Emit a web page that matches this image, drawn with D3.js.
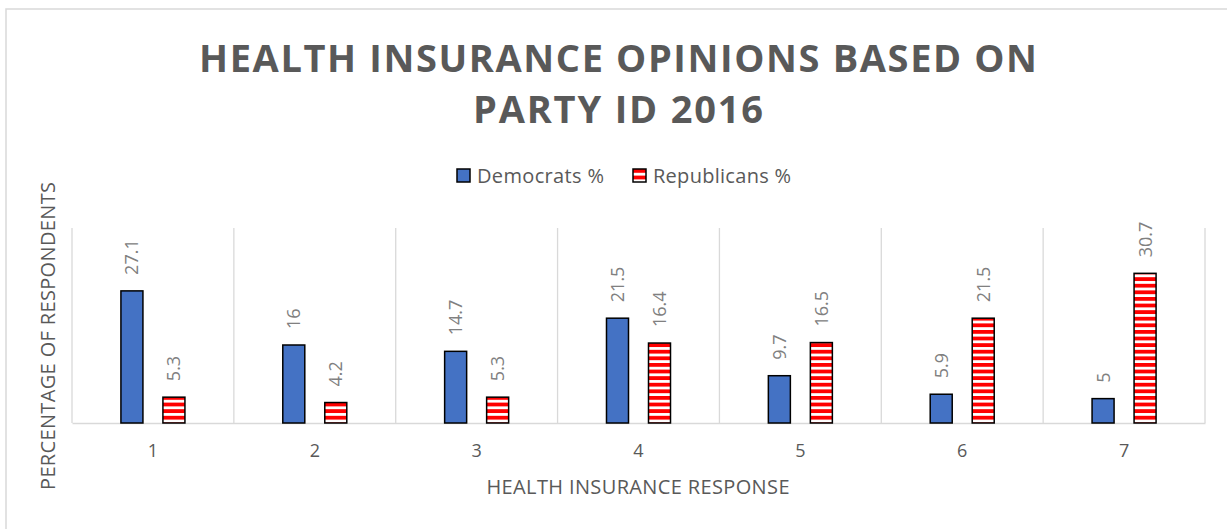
<!DOCTYPE html>
<html>
<head>
<meta charset="utf-8">
<script src="https://cdn.jsdelivr.net/npm/d3@7"></script>
<style>
  body { margin: 0; background: #ffffff; }
  text { font-family: "Open Sans", sans-serif; }
</style>
</head>
<body>
<div id="chart"></div>
<script>
// values
var categories = ['1', '2', '3', '4', '5', '6', '7'];
var seriesNames = ['Democrats %', 'Republicans %'];
var democrats = [27.1, 16, 14.7, 21.5, 9.7, 5.9, 5];
var republicans = [5.3, 4.2, 5.3, 16.4, 16.5, 21.5, 30.7];
var titleLines = ['HEALTH INSURANCE OPINIONS BASED ON', 'PARTY ID 2016'];
var yDomain = [0, 40];

var W = 1227, H = 529;
var plot = {left: 72, right: 1205, top: 228, bottom: 423};
var GRID = '#d9d9d9';
var TEXT = '#595959';

var svg = d3.select('#chart').append('svg')
    .attr('width', W)
    .attr('height', H);

// red / white horizontal stripes for the Republican bars
var defs = svg.append('defs');
var pattern = defs.append('pattern')
    .attr('id', 'stripes')
    .attr('patternUnits', 'userSpaceOnUse')
    .attr('width', 6)
    .attr('height', 6.6);
pattern.append('rect')
    .attr('width', 6).attr('height', 6.6).attr('fill', '#ffffff');
pattern.append('rect')
    .attr('width', 6).attr('height', 3.8).attr('fill', '#ff0000');

// chart area border
svg.append('rect')
    .attr('x', 6).attr('y', 9)
    .attr('width', 1240).attr('height', 540)
    .attr('fill', 'none')
    .attr('stroke', GRID)
    .attr('stroke-width', 1.5);

// title
svg.selectAll('text.title').data(titleLines)
  .enter().append('text')
    .attr('class', 'title')
    .attr('x', 618)
    .attr('y', function(d, i) { return 72 + i * 51; })
    .attr('text-anchor', 'middle')
    .attr('font-size', 38)
    .attr('font-weight', 700)
    .attr('fill', TEXT)
    .attr('textLength', function(d, i) { return i === 0 ? 838 : 290; })
    .attr('lengthAdjust', 'spacing')
    .text(function(d) { return d; });

// legend
var legendX = [457, 633];
var legendTextLen = [127, 138];
var legend = svg.selectAll('g.legend').data(seriesNames)
  .enter().append('g')
    .attr('class', 'legend')
    .attr('transform', function(d, i) { return 'translate(' + legendX[i] + ',169)'; });
legend.append('rect')
    .attr('width', 13).attr('height', 13)
    .attr('fill', function(d, i) { return i === 0 ? '#4472c4' : 'url(#stripes)'; })
    .attr('stroke', '#000000')
    .attr('stroke-width', 1.5);
legend.append('text')
    .attr('x', 20).attr('y', 14)
    .attr('font-size', 20)
    .attr('fill', TEXT)
    .attr('textLength', function(d, i) { return legendTextLen[i]; })
    .attr('lengthAdjust', 'spacing')
    .text(function(d) { return d; });

// scales
var x = d3.scaleBand().domain(categories).range([plot.left, plot.right]);
var bw = x.bandwidth();
var x1 = d3.scaleBand().domain(seriesNames)
    .range([bw / 2 - 42, bw / 2 + 42])
    .paddingInner(0.476)
    .paddingOuter(0.238);
var y = d3.scaleLinear().domain(yDomain).range([plot.bottom, plot.top]);

// vertical gridlines at the category boundaries
var bounds = categories.map(function(c) { return x(c); }).concat([plot.right]);
svg.selectAll('line.grid').data(bounds)
  .enter().append('line')
    .attr('class', 'grid')
    .attr('x1', function(d) { return d; })
    .attr('x2', function(d) { return d; })
    .attr('y1', y(yDomain[1]))
    .attr('y2', y(0))
    .attr('stroke', GRID)
    .attr('stroke-width', 1.3);

// x axis
var xAxis = svg.append('g')
    .attr('transform', 'translate(0,' + y(0) + ')')
    .call(d3.axisBottom(x).tickSize(0).tickPadding(21));
xAxis.select('.domain').attr('stroke', GRID).attr('stroke-width', 1.3);
xAxis.selectAll('text')
    .attr('font-family', '"Open Sans", sans-serif')
    .attr('font-size', 18)
    .attr('fill', TEXT);

// axis titles
svg.append('text')
    .attr('x', 638).attr('y', 494)
    .attr('text-anchor', 'middle')
    .attr('font-size', 20)
    .attr('fill', TEXT)
    .attr('textLength', 303)
    .attr('lengthAdjust', 'spacing')
    .text('HEALTH INSURANCE RESPONSE');
svg.append('text')
    .attr('transform', 'translate(55,336) rotate(-90)')
    .attr('text-anchor', 'middle')
    .attr('font-size', 20)
    .attr('fill', TEXT)
    .attr('textLength', 308)
    .attr('lengthAdjust', 'spacing')
    .text('PERCENTAGE OF RESPONDENTS');

// bars
var rows = categories.map(function(c, i) {
  return [
    {cat: c, series: seriesNames[0], value: democrats[i]},
    {cat: c, series: seriesNames[1], value: republicans[i]}
  ];
});
var groups = svg.selectAll('g.cat').data(rows)
  .enter().append('g')
    .attr('class', 'cat')
    .attr('transform', function(d) { return 'translate(' + x(d[0].cat) + ',0)'; });

groups.selectAll('rect').data(function(d) { return d; })
  .enter().append('rect')
    .attr('x', function(d) { return x1(d.series); })
    .attr('y', function(d) { return y(d.value); })
    .attr('width', x1.bandwidth())
    .attr('height', function(d) { return y(0) - y(d.value); })
    .attr('fill', function(d) { return d.series === seriesNames[0] ? '#4472c4' : 'url(#stripes)'; })
    .attr('stroke', '#000000')
    .attr('stroke-width', 1.5);

// data labels, rotated
groups.selectAll('text.label').data(function(d) { return d; })
  .enter().append('text')
    .attr('class', 'label')
    .attr('transform', function(d) {
      var cx = x1(d.series) + x1.bandwidth() / 2;
      return 'translate(' + cx + ',' + (y(d.value) - 16) + ') rotate(-90)';
    })
    .attr('dy', '0.36em')
    .attr('font-size', 18)
    .attr('fill', '#808080')
    .text(function(d) { return d.value; });
</script>
</body>
</html>
